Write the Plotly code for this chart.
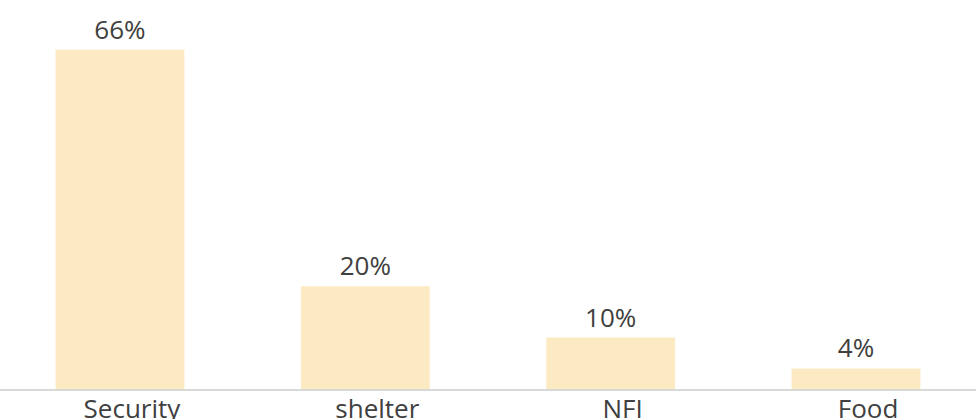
import plotly.graph_objects as go

categories = ["Security", "shelter", "NFI", "Food"]
values = [66, 20, 10, 4]
labels = ["66%", "20%", "10%", "4%"]

fig = go.Figure(go.Bar(
    x=categories, y=values, text=labels, textposition="outside",
    marker=dict(color="#FCEBC2", line=dict(width=0)),
    textfont=dict(family="Open Sans", size=26, color="#404040"),
    cliponaxis=False, width=0.525, hoverinfo="skip",
))
fig.update_layout(
    width=976, height=419,
    margin=dict(l=0, r=0, t=0, b=30, pad=0),
    plot_bgcolor="white", paper_bgcolor="white",
    showlegend=False,
    xaxis=dict(showline=True, linecolor="#D9D9D9", linewidth=2, ticks="",
               automargin=False, ticklabelshift=12, ticklabelstandoff=-4,
               tickfont=dict(family="Open Sans", size=26, color="#404040"),
               range=[-0.489, 3.489]),
    yaxis=dict(visible=False, range=[0, 75.7], automargin=False),
)
fig.write_html("out.html", config={"displayModeBar": False},
               post_script="document.body.style.margin='0';")
